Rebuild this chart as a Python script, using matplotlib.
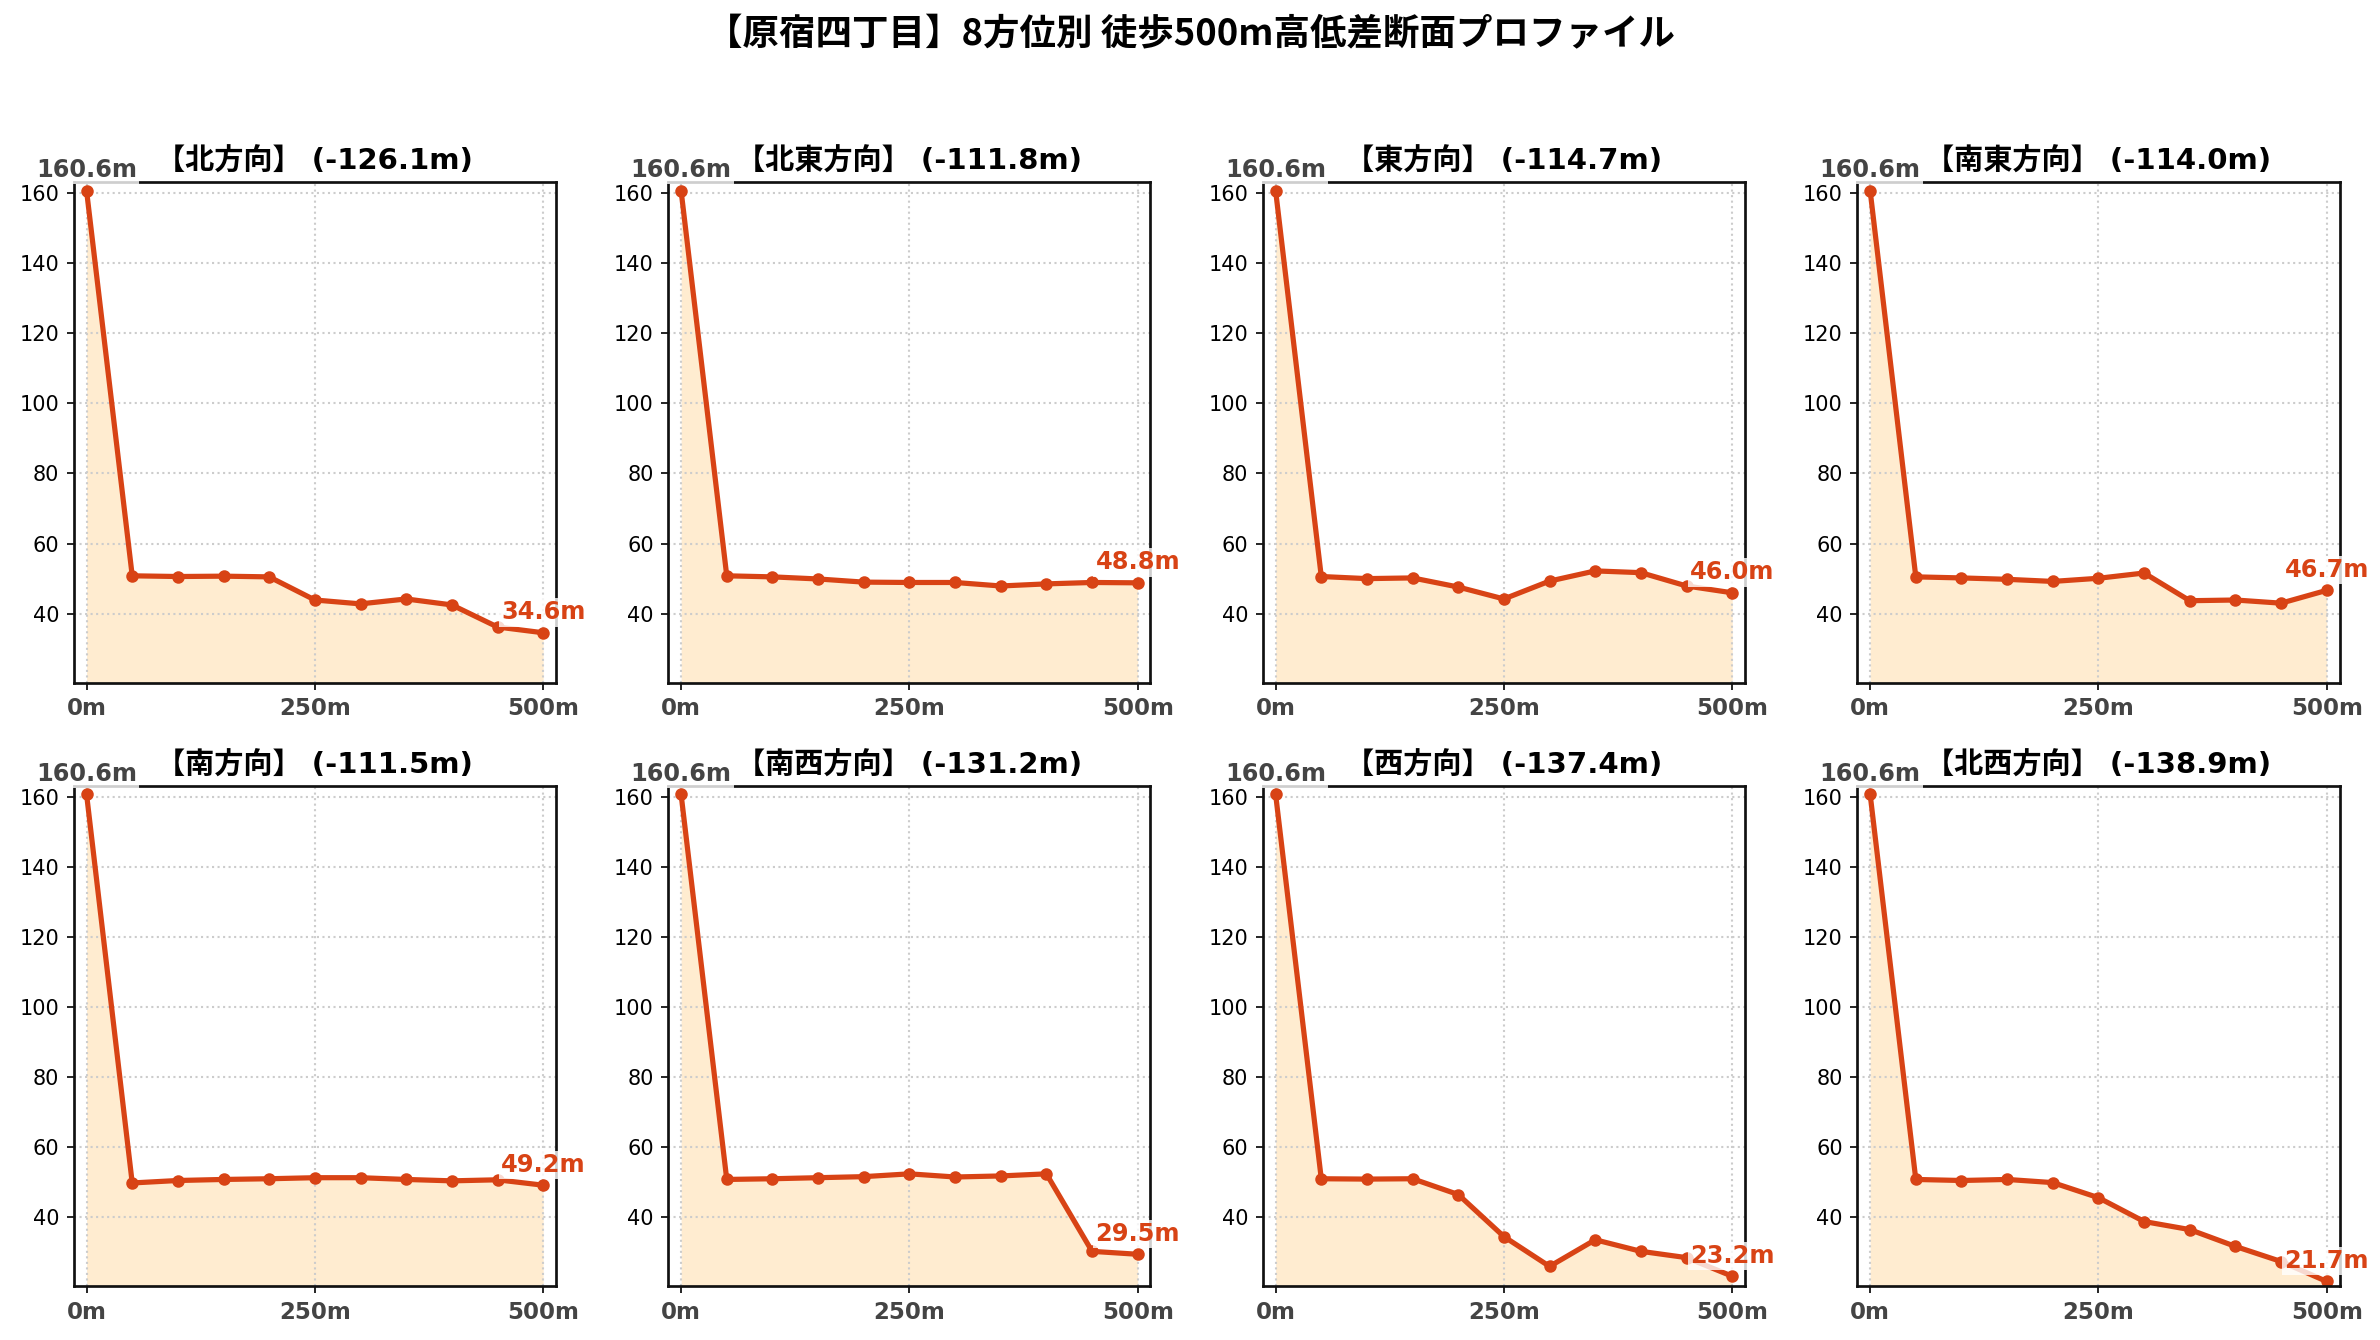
import matplotlib
matplotlib.use("Agg")
import matplotlib.pyplot as plt

plt.rcParams['font.family'] = ['DejaVu Sans', 'Noto Sans CJK JP']

# 距離 (m)
dist = [0, 50, 100, 150, 200, 250, 300, 350, 400, 450, 500]

directions = ["北", "北東", "東", "南東", "南", "南西", "西", "北西"]

start = 160.64
elev_n = [start, 50.8, 50.6, 50.7, 50.5, 43.9, 42.8, 44.2, 42.5, 36.2, 34.56]
elev_ne = [start, 50.8, 50.5, 49.9, 49.0, 48.9, 48.9, 47.9, 48.5, 48.9, 48.80]
elev_e = [start, 50.6, 50.0, 50.2, 47.6, 44.2, 49.3, 52.2, 51.7, 47.9, 45.96]
elev_se = [start, 50.5, 50.2, 49.8, 49.2, 50.1, 51.6, 43.7, 43.9, 43.0, 46.66]
elev_s = [start, 49.8, 50.5, 50.8, 51.0, 51.3, 51.3, 50.8, 50.4, 50.7, 49.16]
elev_sw = [start, 50.8, 51.0, 51.3, 51.6, 52.4, 51.5, 51.8, 52.4, 30.3, 29.46]
elev_w = [start, 51.0, 50.9, 51.0, 46.5, 34.5, 26.0, 33.6, 30.3, 28.5, 23.20]
elev_nw = [start, 50.8, 50.5, 50.8, 49.9, 45.6, 38.8, 36.5, 31.7, 27.4, 21.70]

profiles = [elev_n, elev_ne, elev_e, elev_se, elev_s, elev_sw, elev_w, elev_nw]

line_color = "#D84315"
fill_color = "#FFE0B2"

ymin = min(min(p) for p in profiles) - 1.4
ymax = max(max(p) for p in profiles) + 2.4

fig, axes = plt.subplots(2, 4, figsize=(2380 / 150, 1340 / 150), dpi=150)
fig.subplots_adjust(left=0.031, right=0.983, top=0.864, bottom=0.040,
                    wspace=0.233, hspace=0.206)

for ax, name, elev in zip(axes.flat, directions, profiles):
    ax.fill_between(dist, elev, 0, color=fill_color, alpha=0.6, linewidth=0)
    ax.plot(dist, elev, color=line_color, linewidth=2.5, marker="o",
            markersize=5)
    diff = elev[-1] - elev[0]
    ax.set_title(f"【{name}方向】 ({diff:.1f}m)", fontsize=14,
                 fontweight="bold")
    ax.set_xlim(-14, 514)
    ax.set_ylim(ymin, ymax)
    ax.set_xticks([0, 250, 500])
    ax.set_xticklabels(["0m", "250m", "500m"], fontweight="bold",
                       color="#444444", fontsize=11)
    ax.set_yticks([40, 60, 80, 100, 120, 140, 160])
    ax.tick_params(axis="y", labelsize=10)
    ax.grid(True, linestyle=":", color="#cccccc", linewidth=1)
    for sp in ax.spines.values():
        sp.set_linewidth(1.3)
        sp.set_color("#111111")

    box = dict(facecolor="white", alpha=0.8, edgecolor="none", pad=1)
    ax.annotate(f"{elev[0]:.1f}m", (dist[0], elev[0]), xytext=(0, 4),
                textcoords="offset points", ha="center", va="bottom",
                fontsize=11.5, fontweight="bold", color="#444444",
                bbox=box, annotation_clip=False, zorder=5)
    ax.annotate(f"{elev[-1]:.1f}m", (dist[-1], elev[-1]), xytext=(0, 4),
                textcoords="offset points", ha="center", va="bottom",
                fontsize=11.5, fontweight="bold", color=line_color,
                bbox=box, annotation_clip=False, zorder=5)

fig.suptitle("【原宿四丁目】8方位別 徒歩500m高低差断面プロファイル",
             fontsize=17.5, fontweight="bold", y=0.988,
             family=["Noto Sans CJK JP", "DejaVu Sans"])

fig.savefig("out.png", dpi=150)
plt.close(fig)
